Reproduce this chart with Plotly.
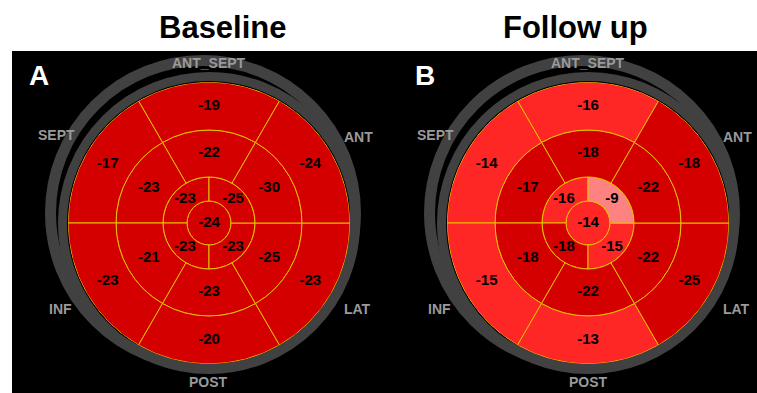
import math
import plotly.graph_objects as go

# ---------------- data ----------------
panel_titles = ["Baseline", "Follow up"]
panel_letters = ["A", "B"]
wall_labels = ["ANT_SEPT", "SEPT", "INF", "POST", "LAT", "ANT"]

basal_theta = [90, 150, 210, 270, 330, 30]
apical_theta = [135, 225, 315, 45]

baseline_basal = [-19, -17, -23, -20, -23, -24]
baseline_mid = [-22, -23, -21, -23, -25, -30]
baseline_apical = [-23, -23, -23, -25]
baseline_apex = [-24]

followup_basal = [-16, -14, -15, -13, -25, -18]
followup_mid = [-18, -17, -18, -22, -22, -22]
followup_apical = [-16, -18, -15, -9]
followup_apex = [-14]

# ---------------- style / geometry ----------------
W, H = 757, 393
R = 141.0
ring_edges = [0, 22, 46, 93, 141]     # apex, apical, mid, basal boundaries (radial units)
centers_px = [(209, 223), (588, 223)]
label_r = [160, 176, 172, 159, 172, 173]
FONT = "Liberation Sans, Arial, sans-serif"
colorscale = [[0, "#d40000"], [0.45, "#d40000"], [0.45, "#ff2626"], [0.5833, "#ff2626"],
              [0.5833, "#ff8282"], [0.7167, "#ff8282"], [0.7167, "#ffb6b6"], [1, "#ffb6b6"]]
CMIN, CMAX = -30, 0
LINE = dict(color="#e6c200", width=1)

fig = go.Figure()

panels = [
    (baseline_basal, baseline_mid, baseline_apical, baseline_apex),
    (followup_basal, followup_mid, followup_apical, followup_apex),
]

for i, (basal, mid, apical, apex) in enumerate(panels):
    sp = "polar" if i == 0 else "polar2"
    rings = [
        (apex, [0], 360, ring_edges[0], ring_edges[1]),
        (apical, apical_theta, 90, ring_edges[1], ring_edges[2]),
        (mid, basal_theta, 60, ring_edges[2], ring_edges[3]),
        (basal, basal_theta, 60, ring_edges[3], ring_edges[4]),
    ]
    for vals, th, wd, r0, r1 in rings:
        fig.add_trace(go.Barpolar(
            r=[r1 - r0] * len(vals), base=[r0] * len(vals), theta=th,
            width=[wd] * len(vals),
            marker=dict(color=vals, colorscale=colorscale, cmin=CMIN, cmax=CMAX,
                        line=LINE, showscale=False),
            subplot=sp, showlegend=False, hoverinfo="skip"))
        rmid = 0 if r0 == 0 else (r0 + r1) / 2
        fig.add_trace(go.Scatterpolar(
            r=[rmid] * len(vals), theta=th, mode="text",
            text=["<b>%d</b>" % v for v in vals],
            textfont=dict(family=FONT, size=15, color="black"),
            subplot=sp, showlegend=False, hoverinfo="skip"))

shapes = [dict(type="rect", xref="paper", yref="paper", x0=12 / W, x1=1, y0=0,
               y1=(H - 51) / H, fillcolor="black", line=dict(width=0), layer="below")]
annotations = []
for i, (cx, cy) in enumerate(centers_px):
    for (ox, oy, rr, lw) in [(-6, -10, 152.5, 11), (0, 0, 146.5, 9)]:
        x, y = cx + ox, cy + oy
        shapes.append(dict(type="circle", xref="paper", yref="paper",
                           x0=(x - rr) / W, x1=(x + rr) / W,
                           y0=(H - y - rr) / H, y1=(H - y + rr) / H,
                           line=dict(color="#414141", width=lw), layer="below"))
    polar_cfg = dict(
        domain=dict(x=[(cx - R) / W, (cx + R) / W], y=[(H - cy - R) / H, (H - cy + R) / H]),
        bgcolor="rgba(0,0,0,0)", hole=0,
        radialaxis=dict(visible=False, range=[0, R]),
        angularaxis=dict(visible=False, direction="counterclockwise", rotation=0),
        barmode="overlay")
    fig.update_layout(**{("polar" if i == 0 else "polar2"): polar_cfg})
    # wall labels placed around the bullseye at the basal segment angles
    for lab, th, rr in zip(wall_labels, basal_theta, label_r):
        lx = cx + rr * math.cos(math.radians(th))
        ly = cy - rr * math.sin(math.radians(th))
        annotations.append(dict(text="<b>%s</b>" % lab, x=lx / W, y=(H - ly) / H,
                                xref="paper", yref="paper", xanchor="center", yanchor="middle",
                                showarrow=False, font=dict(family=FONT, size=14, color="#9a9a9a")))

title_x = [223, 575]
letter_x = [39, 425]
for i in range(2):
    annotations.append(dict(text="<b>%s</b>" % panel_titles[i], x=title_x[i] / W, y=(H - 28) / H,
                            xref="paper", yref="paper", xanchor="center", yanchor="middle",
                            showarrow=False, font=dict(family=FONT, size=31, color="black")))
    annotations.append(dict(text="<b>%s</b>" % panel_letters[i], x=letter_x[i] / W, y=(H - 76) / H,
                            xref="paper", yref="paper", xanchor="center", yanchor="middle",
                            showarrow=False, font=dict(family=FONT, size=28, color="white")))

fig.update_layout(width=W, height=H, margin=dict(l=0, r=0, t=0, b=0),
                  paper_bgcolor="white", plot_bgcolor="white",
                  shapes=shapes, annotations=annotations, showlegend=False)
fig.write_html("out.html")
